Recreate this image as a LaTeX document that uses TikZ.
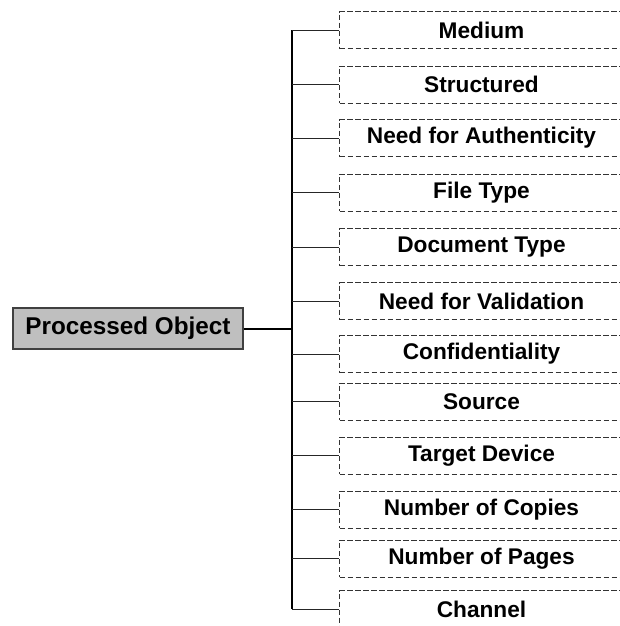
\documentclass[tikz,border=0pt]{standalone}
\usepackage{fontspec}
\setmainfont{Liberation Sans}
\begin{document}
\begin{tikzpicture}[x=0.75pt,y=-0.75pt,
  item/.style={draw=black!80, line width=0.75pt, dash pattern=on 4pt off 2pt,
    minimum width=213pt, minimum height=27.75pt, inner sep=0pt, anchor=west,
    font=\fontsize{17}{20}\selectfont\bfseries},
  mainbox/.style={draw=black!75, fill=black!25, line width=0.9pt,
    minimum width=172.5pt, minimum height=30.75pt, inner sep=0pt,
    font=\fontsize{18.2}{22}\selectfont\bfseries},
  branch/.style={line width=0.75pt, black!85},
  trunk/.style={line width=1.5pt, black}]
\useasboundingbox (0,0) rectangle (620,626);
\clip (0,0) rectangle (620,626);
\node[mainbox] (main) at (128,328.5) {Processed Object};
\node[item] (b1) at (339,30) {Medium};
\node[item] (b2) at (339,84.5) {Structured};
\node[item] (b3) at (339,138) {Need for Authenticity};
\node[item] (b4) at (339,192.5) {File Type};
\node[item] (b5) at (339,247) {Document Type};
\node[item] (b6) at (339,301) {Need for Validation};
\node[item] (b7) at (339,354) {Confidentiality};
\node[item] (b8) at (339,401.5) {Source};
\node[item] (b9) at (339,455.5) {Target Device};
\node[item] (b10) at (339,509.5) {Number of Copies};
\node[item] (b11) at (339,558.5) {Number of Pages};
\node[item] (b12) at (339,609) {Channel};
\coordinate (tx) at (292,0);
\draw[trunk] (b1.west -| tx) -- (b12.west -| tx);
\draw[trunk] (main.east) -- (main.east -| tx);
\foreach \i in {1,...,12} {
  \draw[branch] (b\i.west -| tx) -- (b\i.west);
}
\end{tikzpicture}
\end{document}
